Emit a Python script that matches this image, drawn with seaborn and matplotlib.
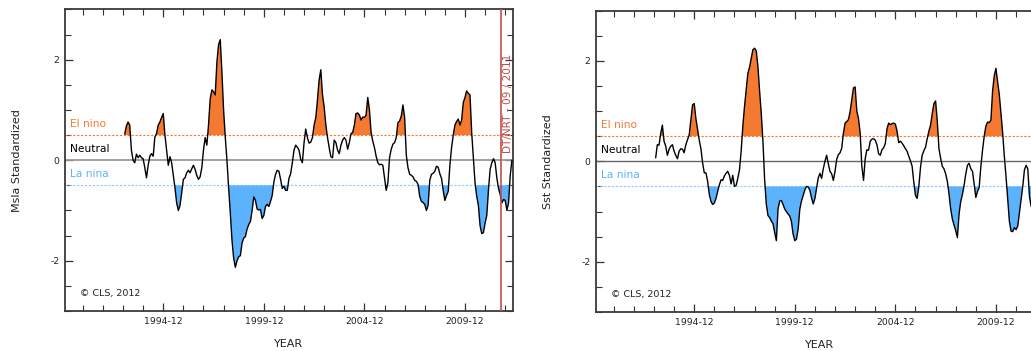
import numpy as np
import pandas as pd
import matplotlib
matplotlib.use("Agg")
import matplotlib.pyplot as plt
import seaborn as sns

# Monthly standardized indices, starting 1993-01
start_year = 1993
msla = [0.52, 0.68, 0.76, 0.70, 0.20, 0.00, -0.05, 0.12, 0.05, 0.10, 0.05, 0.03,
        -0.15, -0.35, -0.10, 0.08, 0.13, 0.08, 0.46, 0.53, 0.70, 0.76, 0.85, 0.93,
        0.50, 0.20, -0.10, 0.07, -0.05, -0.30, -0.55, -0.85, -1.00, -0.90, -0.65, -0.38,
        -0.35, -0.25, -0.20, -0.25, -0.17, -0.10, -0.18, -0.30, -0.38, -0.33, -0.15, 0.20,
        0.45, 0.30, 0.70, 1.22, 1.40, 1.36, 1.30, 1.95, 2.30, 2.40, 1.75, 1.00,
        0.46, 0.00, -0.55, -1.05, -1.59, -1.95, -2.13, -2.00, -1.92, -1.90, -1.65, -1.55,
        -1.52, -1.37, -1.28, -1.22, -1.00, -0.73, -0.80, -0.97, -0.99, -0.98, -1.16, -1.10,
        -0.92, -0.88, -0.92, -0.82, -0.70, -0.43, -0.28, -0.20, -0.22, -0.38, -0.56, -0.52,
        -0.60, -0.60, -0.36, -0.27, -0.05, 0.20, 0.30, 0.26, 0.20, 0.02, -0.05, 0.35,
        0.62, 0.45, 0.34, 0.36, 0.45, 0.70, 0.85, 1.20, 1.60, 1.80, 1.30, 1.06,
        0.70, 0.45, 0.25, 0.07, 0.05, 0.40, 0.35, 0.20, 0.13, 0.30, 0.40, 0.45,
        0.40, 0.22, 0.35, 0.53, 0.55, 0.70, 0.93, 0.94, 0.90, 0.80, 0.86, 0.85,
        0.90, 1.25, 1.00, 0.55, 0.38, 0.25, 0.08, -0.05, -0.09, -0.08, -0.10, -0.35,
        -0.60, -0.45, 0.05, 0.22, 0.32, 0.35, 0.45, 0.75, 0.78, 0.88, 1.10, 0.85,
        0.10, -0.15, -0.28, -0.30, -0.33, -0.40, -0.42, -0.48, -0.72, -0.82, -0.84, -0.88,
        -1.00, -0.90, -0.40, -0.28, -0.26, -0.22, -0.12, -0.14, -0.27, -0.36, -0.60, -0.80,
        -0.70, -0.62, -0.10, 0.25, 0.50, 0.70, 0.77, 0.82, 0.70, 0.80, 1.15, 1.25,
        1.38, 1.33, 1.30, 0.55, 0.05, -0.45, -0.72, -0.90, -1.30, -1.46, -1.44, -1.25,
        -1.10, -0.60, -0.18, -0.05, 0.03, -0.05, -0.35, -0.56, -0.68, -0.85, -0.78, -0.80,
        -1.00, -0.85, -0.30, 0.00]

sst = [0.07, 0.33, 0.32, 0.55, 0.72, 0.40, 0.30, 0.12, 0.24, 0.30, 0.33, 0.20,
       0.12, 0.05, 0.20, 0.25, 0.24, 0.17, 0.33, 0.43, 0.52, 0.83, 1.12, 1.15,
       0.85, 0.63, 0.42, 0.25, -0.03, -0.23, -0.23, -0.40, -0.66, -0.80, -0.86, -0.83,
       -0.74, -0.60, -0.47, -0.37, -0.38, -0.29, -0.24, -0.20, -0.28, -0.45, -0.28, -0.50,
       -0.48, -0.34, -0.17, 0.20, 0.70, 1.09, 1.42, 1.75, 1.87, 2.05, 2.22, 2.25,
       2.20, 1.89, 1.40, 0.95, 0.40, -0.36, -0.85, -1.08, -1.12, -1.19, -1.24, -1.42,
       -1.58, -0.95, -0.79, -0.78, -0.86, -0.95, -1.00, -1.05, -1.09, -1.20, -1.45, -1.58,
       -1.55, -1.35, -0.95, -0.79, -0.68, -0.57, -0.50, -0.51, -0.58, -0.73, -0.85, -0.74,
       -0.54, -0.33, -0.24, -0.34, -0.15, 0.00, 0.12, -0.05, -0.20, -0.25, -0.38, -0.20,
       0.04, 0.13, 0.17, 0.26, 0.56, 0.76, 0.79, 0.83, 0.99, 1.23, 1.46, 1.48,
       1.00, 0.85, 0.56, -0.10, -0.38, 0.05, 0.23, 0.22, 0.40, 0.44, 0.45, 0.42,
       0.33, 0.15, 0.12, 0.23, 0.27, 0.35, 0.65, 0.76, 0.73, 0.75, 0.76, 0.74,
       0.60, 0.37, 0.40, 0.36, 0.31, 0.25, 0.20, 0.10, 0.01, -0.10, -0.42, -0.68,
       -0.74, -0.50, -0.12, 0.12, 0.21, 0.28, 0.45, 0.60, 0.72, 0.95, 1.15, 1.20,
       0.80, 0.25, 0.06, -0.10, -0.15, -0.25, -0.40, -0.65, -0.95, -1.15, -1.27, -1.38,
       -1.52, -1.05, -0.80, -0.66, -0.48, -0.25, -0.08, -0.04, -0.15, -0.20, -0.45, -0.72,
       -0.60, -0.52, -0.10, 0.22, 0.50, 0.70, 0.78, 0.77, 0.82, 1.40, 1.70, 1.85,
       1.58, 1.33, 0.95, 0.57, 0.10, -0.30, -0.75, -1.19, -1.39, -1.40, -1.32, -1.36,
       -1.29, -1.03, -0.76, -0.50, -0.17, -0.08, -0.15, -0.70, -0.90]

panels = [("Msla Standardized", msla), ("Sst Standardized", sst)]
major_years = [1994, 1999, 2004, 2009]
minor_years = list(range(1990, 2012))
nrt_date = 2011 + 8.5 / 12

orange = "#f47a32"
blue = "#5cb2fd"

sns.set_style("ticks")
plt.rcParams["font.family"] = ["DejaVu Sans"]

fig = plt.figure(figsize=(10.31, 3.51), dpi=100)
positions = [[0.063, 0.114, 0.4345, 0.859], [0.578, 0.111, 0.4345, 0.859]]

for k, (ylab, vals) in enumerate(panels):
    ax = fig.add_axes(positions[k])
    y = np.array(vals)
    t = start_year + np.arange(len(y)) / 12.0
    df = pd.DataFrame({"t": t, "v": y})

    # shaded El nino / La nina episodes
    ax.fill_between(t, y, 0.5, where=y >= 0.5, interpolate=True, color=orange, lw=0, zorder=2)
    ax.fill_between(t, y, -0.5, where=y <= -0.5, interpolate=True, color=blue, lw=0, zorder=2)
    ax.axhline(0, color="#9a9a9a" if k == 0 else "#666666", lw=1.3 if k == 0 else 1.0, zorder=1)
    ax.axhline(0.5, color=orange, lw=0.8, ls=(0, (2, 1.5)), zorder=1)
    ax.axhline(-0.5, color="#8cc8ff", lw=0.8, ls=(0, (2, 1.5)), zorder=1)
    sns.lineplot(data=df, x="t", y="v", ax=ax, color="black", lw=1.0, zorder=3)

    ax.text(1990.3, 0.72, "El nino", color=orange, fontsize=7.7, va="center", ha="left")
    ax.text(1990.3, 0.22, "Neutral", color="black", fontsize=7.7, va="center", ha="left")
    ax.text(1990.3, -0.28, "La nina", color=blue, fontsize=7.7, va="center", ha="left")
    ax.text(1990.8, -2.66, "\u00a9 CLS, 2012", color="#222222", fontsize=6.8, va="center", ha="left")

    if k == 0:
        ax.axvline(nrt_date, color="#c0504d", lw=1.2, zorder=4)
        ax.text(nrt_date + 0.12, 0.14, "DT/NRT - 09 / 2011", color="#c0504d", fontsize=7.6,
                rotation=90, ha="left", va="bottom", clip_on=True)

    ax.set_xlim(1990.03, 2012.3)
    ax.set_ylim(-3, 3)
    ax.set_xticks([yr + 11 / 12 for yr in major_years])
    ax.set_xticklabels([f"{yr}-12" for yr in major_years])
    ax.set_xticks([yr + 11 / 12 for yr in minor_years], minor=True)
    ax.set_yticks([-2, 0, 2])
    ax.set_yticklabels(["-2", "0", "2"])
    ax.set_yticks(np.arange(-3, 3.01, 0.5), minor=True)
    ax.tick_params(which="both", direction="in", top=True, right=True, colors="#333333",
                   labelsize=6.7, labelcolor="#222222")
    ax.tick_params(which="major", length=6, width=0.9, pad=4)
    ax.tick_params(which="minor", length=4, width=0.8)
    for s in ax.spines.values():
        s.set_color("#3a3a3a")
        s.set_linewidth(1.3)
    ax.set_xlabel("YEAR", fontsize=8, color="#222222", labelpad=10)
    ax.set_ylabel(ylab, fontsize=8, color="#222222", labelpad=20)

plt.savefig("out.png", dpi=100)
plt.close()
